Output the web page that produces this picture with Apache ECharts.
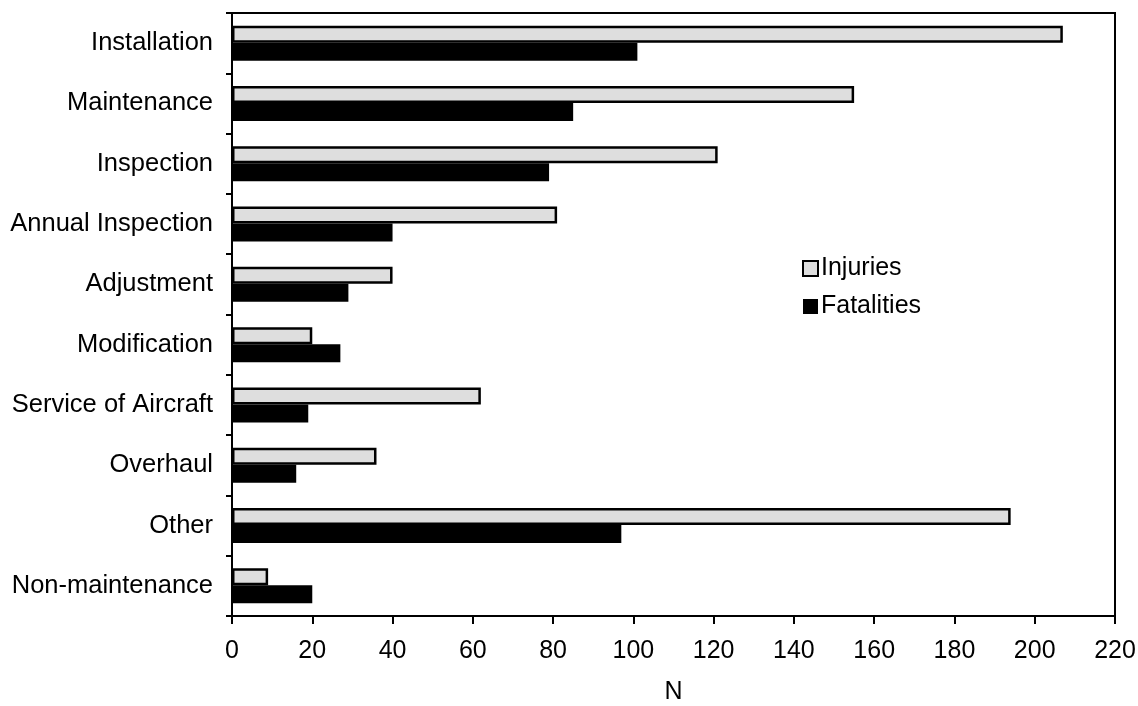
<!DOCTYPE html>
<html>
<head>
<meta charset="utf-8">
<script src="https://cdn.jsdelivr.net/npm/echarts@6/dist/echarts.min.js"></script>
<style>html,body{margin:0;padding:0;background:#fff}#c{width:1138px;height:706px}</style>
</head>
<body>
<div id="c"></div>
<script>
const categories = ["Installation","Maintenance","Inspection","Annual Inspection","Adjustment","Modification","Service of Aircraft","Overhaul","Other","Non-maintenance"];
const injuries = [207,155,121,81,40,20,62,36,194,9];
const fatalities = [101,85,79,40,29,27,19,16,97,20];
const xTicks = {min:0, max:220, interval:20};

const font = "'Liberation Sans', Arial, Helvetica, sans-serif";
const chart = echarts.init(document.getElementById('c'));
chart.setOption({
  animation:false,
  backgroundColor:'#fff',
  grid:{left:232, top:13, right:23, bottom:90, show:true, borderColor:'#000', borderWidth:2, containLabel:false, outerBoundsMode:'none'},
  legend:{
    orient:'vertical', left:797, top:251, itemWidth:15, itemHeight:15, itemGap:13, icon:'rect',
    textStyle:{fontFamily:font, fontSize:25, color:'#000', padding:[0,0,0,-2]},
    data:[{name:'Injuries', itemStyle:{color:'#dedede', borderColor:'#000', borderWidth:2}},
          {name:'Fatalities', itemStyle:{color:'#000'}}]
  },
  xAxis:{
    type:'value', min:xTicks.min, max:xTicks.max, interval:xTicks.interval,
    name:'N', nameLocation:'middle', nameGap:64,
    nameTextStyle:{fontFamily:font, fontSize:25, color:'#000'},
    axisLine:{show:true, lineStyle:{color:'#000', width:2}},
    axisTick:{show:true, length:8, lineStyle:{color:'#000', width:2}},
    axisLabel:{fontFamily:font, fontSize:25, color:'#000', margin:23},
    splitLine:{show:false}
  },
  yAxis:{
    type:'category', data:categories, inverse:true,
    axisLine:{show:true, lineStyle:{color:'#000', width:2}},
    axisTick:{show:true, length:6, lineStyle:{color:'#000', width:2}},
    axisLabel:{fontFamily:font, fontSize:25.5, color:'#000', margin:19}
  },
  series:[
    {name:'Injuries', type:'bar', data:injuries, barWidth:17, barGap:'0%',
     itemStyle:{color:'#dedede', borderColor:'#000', borderWidth:2.5},
     emphasis:{disabled:true}},
    {name:'Fatalities', type:'bar', data:fatalities, barWidth:18,
     itemStyle:{color:'#000'}, emphasis:{disabled:true}}
  ]
});
</script>
</body>
</html>
